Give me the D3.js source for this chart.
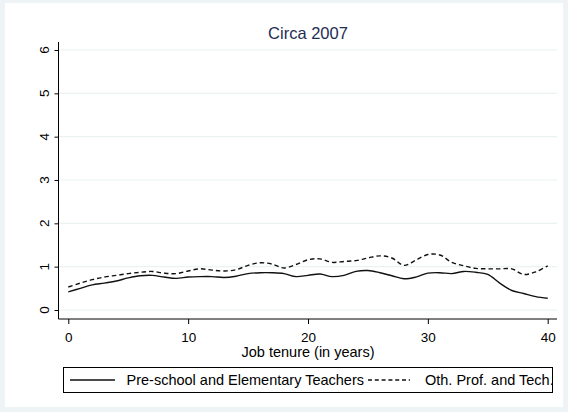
<!DOCTYPE html>
<html><head><meta charset="utf-8">
<script src="https://cdn.jsdelivr.net/npm/d3@7"></script>
<style>body{margin:0;background:#fff}svg{display:block}text{font-family:"Liberation Sans",Arial,sans-serif}</style>
</head><body>
<script>
const title = "Circa 2007";
const xTitle = "Job tenure (in years)";
const seriesNames = ["Pre-school and Elementary Teachers", "Oth. Prof. and Tech."];
const tenure = d3.range(0, 41);
const preschool = [0.42,0.50,0.58,0.62,0.67,0.74,0.79,0.80,0.76,0.73,0.76,0.77,0.77,0.75,0.78,0.84,0.86,0.86,0.84,0.77,0.80,0.83,0.77,0.80,0.89,0.91,0.86,0.79,0.72,0.76,0.85,0.86,0.84,0.89,0.87,0.82,0.62,0.45,0.38,0.31,0.27];
const otherProf = [0.53,0.62,0.70,0.76,0.80,0.84,0.87,0.89,0.85,0.84,0.90,0.95,0.92,0.90,0.93,1.03,1.09,1.06,0.97,1.05,1.16,1.18,1.10,1.12,1.14,1.20,1.25,1.20,1.03,1.15,1.28,1.27,1.10,1.02,0.96,0.95,0.95,0.95,0.82,0.88,1.02];
const xTicks = [0,10,20,30,40];
const yTicks = [0,1,2,3,4,5,6];

const W = 568, H = 412;
const svg = d3.select("body").append("svg").attr("width", W).attr("height", H);
svg.append("rect").attr("width", W).attr("height", H).attr("fill", "#eef3f5");
svg.append("rect").attr("x", 5).attr("y", 3).attr("width", 558).attr("height", 404).attr("fill", "#fff");

const frame = {left: 58.5, right: 557, top: 42, bottom: 319};
const x = d3.scaleLinear().domain([0, 40]).range([68.3, 547.7]);
const y = d3.scaleLinear().domain([0, 6]).range([310, 50]);

// gridlines
svg.append("g").selectAll("line").data(yTicks).join("line")
  .attr("x1", frame.left).attr("x2", frame.right)
  .attr("y1", d => y(d)).attr("y2", d => y(d))
  .attr("stroke", "#eaf2f3").attr("stroke-width", 1.2);

// axes
const yAxis = svg.append("g").attr("transform", `translate(${frame.left},0)`)
  .call(d3.axisLeft(y).tickValues(yTicks).tickSize(4).tickPadding(0).tickFormat(d3.format("d")));
yAxis.select(".domain").remove();
yAxis.selectAll("text").remove();
svg.append("line").attr("x1", frame.left).attr("x2", frame.left).attr("y1", frame.top).attr("y2", frame.bottom).attr("stroke", "#000");
svg.append("g").selectAll("text").data(yTicks).join("text")
  .attr("transform", d => `translate(44,${y(d)}) rotate(-90)`)
  .attr("text-anchor", "middle").attr("dy", "0.35em")
  .attr("font-size", 13.5).attr("fill", "#000").text(d => d);

const xAxis = svg.append("g").attr("transform", `translate(0,${frame.bottom})`)
  .call(d3.axisBottom(x).tickValues(xTicks).tickSize(5).tickPadding(8).tickFormat(d3.format("d")));
xAxis.select(".domain").remove();
xAxis.selectAll("text").attr("font-size", 13.5).attr("font-family", "Liberation Sans, Arial, sans-serif").attr("fill", "#000");
svg.append("line").attr("x1", frame.left).attr("x2", frame.right).attr("y1", frame.bottom).attr("y2", frame.bottom).attr("stroke", "#000");

// titles
svg.append("text").attr("x", 308).attr("y", 39).attr("text-anchor", "middle")
  .attr("font-size", 16.5).attr("fill", "#1f2d55").text(title);
svg.append("text").attr("x", 308).attr("y", 357).attr("text-anchor", "middle")
  .attr("font-size", 14.5).attr("fill", "#000").text(xTitle);

// lines
const line = d3.line().x((d, i) => x(tenure[i])).y(d => y(d)).curve(d3.curveCatmullRom.alpha(0.5));
svg.append("path").datum(otherProf).attr("d", line).attr("fill", "none")
  .attr("stroke", "#111").attr("stroke-width", 1.4).attr("stroke-dasharray", "4.5,3");
svg.append("path").datum(preschool).attr("d", line).attr("fill", "none")
  .attr("stroke", "#111").attr("stroke-width", 1.4);

// legend
const lg = svg.append("g");
lg.append("rect").attr("x", 63.5).attr("y", 367.5).attr("width", 489).attr("height", 25)
  .attr("fill", "#fff").attr("stroke", "#000");
lg.append("line").attr("x1", 70).attr("x2", 115).attr("y1", 380).attr("y2", 380).attr("stroke", "#111").attr("stroke-width", 1.3);
lg.append("text").attr("x", 126.5).attr("y", 385).attr("font-size", 14.5).text(seriesNames[0]);
lg.append("line").attr("x1", 368).attr("x2", 410).attr("y1", 380).attr("y2", 380).attr("stroke", "#111").attr("stroke-width", 1.3).attr("stroke-dasharray", "4,2.8");
lg.append("text").attr("x", 425).attr("y", 385).attr("font-size", 14.5).text(seriesNames[1]);
</script>
</body></html>
